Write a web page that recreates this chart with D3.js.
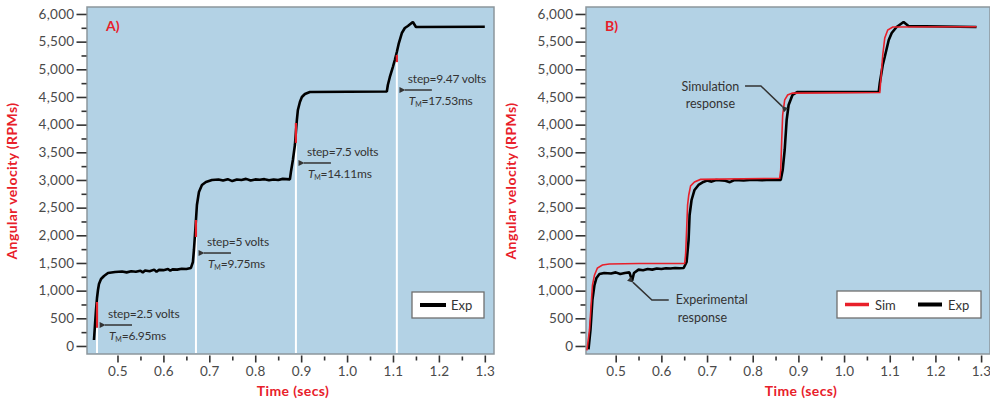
<!DOCTYPE html>
<html><head><meta charset="utf-8">
<script src="https://cdn.jsdelivr.net/npm/d3@7"></script>
<style>
body{margin:0;background:#fff}
svg{display:block}
text{font-family:Lato,"Open Sans",sans-serif}
</style>
</head><body>
<svg id="chart" width="990" height="399"></svg>
<script>
// ---------- data ----------
const xTicks = [0.5,0.6,0.7,0.8,0.9,1.0,1.1,1.2,1.3];
const xMinor = [0.55,0.65,0.75,0.85,0.95,1.05,1.15,1.25];
const yTicks = [0,500,1000,1500,2000,2500,3000,3500,4000,4500,5000,5500,6000];
const yMinor = [250,750,1250,1750,2250,2750,3250,3750,4250,4750,5250,5750];

// Panel A experimental response [time s, rpm]
const expA = [
 [0.4488,108],[0.451,380],[0.4532,650],[0.4554,867],[0.4575,1012],[0.4597,1120],[0.4641,1210],
 [0.4706,1265],[0.4793,1318],[0.4946,1337],[0.51,1345],[0.52,1330],[0.53,1350],[0.54,1340],
 [0.55,1360],[0.555,1330],[0.56,1365],[0.57,1350],[0.58,1380],[0.585,1340],[0.59,1375],
 [0.60,1370],[0.61,1390],[0.615,1360],[0.62,1385],[0.63,1380],[0.64,1395],[0.65,1390],[0.66,1410],
 [0.6643,1518],[0.6665,1735],[0.6687,2006],[0.6709,2277],[0.673,2548],[0.6774,2783],[0.6839,2910],
 [0.6926,2964],[0.7057,3000],[0.72,3010],[0.73,2990],[0.74,3015],[0.75,2980],[0.76,3010],
 [0.77,3000],[0.78,3020],[0.79,2990],[0.80,3010],[0.81,3005],[0.82,3015],[0.83,2995],[0.84,3010],
 [0.85,3000],[0.86,3020],[0.8755,3010],
 [0.8777,3144],[0.882,3361],[0.8864,3632],[0.8886,3867],[0.8907,4084],[0.8929,4265],[0.8973,4409],
 [0.9016,4500],[0.9082,4554],[0.919,4590],[1.0866,4600],
 [1.0888,4716],[1.0932,4861],[1.0997,5041],[1.104,5168],[1.1084,5313],[1.1128,5475],[1.1193,5656],
 [1.1258,5746],[1.1324,5783],[1.1433,5855],[1.15,5765],[1.30,5770]
];
// Panel A step markers
const stepTimesA = [0.4554,0.6709,0.8886,1.1084];
const redSegA = [[330,795],[1970,2277],[3670,4030],[5130,5260]];
const arrowVA = [379,1680,3307,4626];
const stepLabelsA = ["step=2.5 volts","step=5 volts","step=7.5 volts","step=9.47 volts"];
const tmLabelsA = ["=6.95ms","=9.75ms","=14.11ms","=17.53ms"];

// Panel B experimental and simulated responses [time s, rpm]
const expB = [
 [0.4405,-60],[0.4448,290],[0.449,830],[0.4535,1100],[0.4579,1229],[0.4644,1300],[0.475,1320],
 [0.49,1310],[0.50,1330],[0.51,1300],[0.52,1320],[0.53,1330],[0.536,1180],[0.54,1320],
 [0.55,1380],[0.56,1370],[0.57,1390],[0.58,1380],[0.59,1400],[0.60,1390],[0.61,1405],
 [0.62,1400],[0.63,1410],[0.64,1405],[0.6488,1410],
 [0.6553,1518],[0.6596,1915],[0.6618,2367],[0.6661,2638],[0.6726,2819],[0.6813,2910],[0.692,2964],
 [0.70,2990],[0.71,2970],[0.72,3000],[0.74,2985],[0.75,2960],[0.76,3000],[0.78,2990],[0.80,3005],
 [0.82,2995],[0.84,3005],[0.8613,3000],
 [0.8656,3180],[0.87,3542],[0.8743,4084],[0.8786,4355],[0.887,4536],[0.8982,4590],[1.076,4595],
 [1.0782,4753],[1.0847,5078],[1.089,5223],[1.0978,5530],[1.1043,5657],[1.115,5765],[1.1303,5855],
 [1.141,5783],[1.29,5765]
];
const simB = [
 [0.437,-80],[0.4427,290],[0.447,830],[0.4492,1100],[0.4535,1280],[0.460,1410],[0.4709,1464],
 [0.486,1482],[0.551,1490],[0.651,1490],
 [0.653,1645],[0.6553,2096],[0.6574,2548],[0.660,2729],[0.664,2892],[0.6726,2964],[0.6857,3010],
 [0.859,3030],
 [0.8613,3180],[0.8635,3723],[0.8656,4175],[0.870,4446],[0.8765,4536],[0.887,4570],[1.0782,4580],
 [1.0804,4807],[1.0847,5259],[1.0891,5566],[1.0956,5711],[1.1065,5765],[1.29,5770]
];

// ---------- layout ----------
const svg = d3.select("#chart");
const plotTop = 7, plotBottom = 354;
const y = d3.scaleLinear().domain([-145, 6126]).range([plotBottom, plotTop]);
const xA = d3.scaleLinear().domain([0.4336, 1.32]).range([87, 494]);
const xB = d3.scaleLinear().domain([0.435, 1.3195]).range([586, 990]);
const BG = "#b3d2e5", RED = "#e8202a", INK = "#333";

const defs = svg.append("defs");
defs.append("marker").attr("id", "ah").attr("viewBox", "0 0 10 10").attr("refX", 1).attr("refY", 5)
  .attr("markerUnits", "userSpaceOnUse").attr("markerWidth", 7).attr("markerHeight", 6)
  .attr("orient", "auto-start-reverse")
  .append("path").attr("d", "M10,0 L0,5 L10,10 z").attr("fill", INK);

function panel(x, letter, titleX) {
  const g = svg.append("g");
  const [x0, x1] = x.range();
  g.append("rect").attr("x", x0).attr("y", plotTop).attr("width", x1 - x0).attr("height", plotBottom - plotTop)
    .attr("fill", BG).attr("stroke", "#8c969c").attr("stroke-width", 1.5);

  const ya = g.append("g").attr("transform", `translate(${x0-0.5},0)`)
    .call(d3.axisLeft(y).tickValues(yTicks).tickSize(10).tickPadding(2).tickFormat(d3.format(",")));
  ya.select(".domain").remove();
  ya.selectAll("line").attr("stroke", INK).attr("stroke-width", 1.6);
  ya.selectAll("text").attr("fill", "#4a4a4a").style("font-size", "13.5px").style("letter-spacing", "0.3px");
  const ym = g.append("g").attr("transform", `translate(${x0-0.5},0)`)
    .call(d3.axisLeft(y).tickValues(yMinor).tickSize(5).tickFormat(""));
  ym.select(".domain").remove();
  ym.selectAll("line").attr("stroke", INK).attr("stroke-width", 1.6);

  const xa = g.append("g").attr("transform", `translate(0,${plotBottom+1.5})`)
    .call(d3.axisBottom(x).tickValues(xTicks).tickSize(7).tickPadding(4).tickFormat(d3.format(".1f")));
  xa.select(".domain").remove();
  xa.selectAll("line").attr("stroke", INK).attr("stroke-width", 1.6);
  xa.selectAll("text").attr("fill", "#4a4a4a").style("font-size", "13.5px").style("letter-spacing", "0.3px");
  const xm = g.append("g").attr("transform", `translate(0,${plotBottom+2.5})`)
    .call(d3.axisBottom(x).tickValues(xMinor).tickSize(4).tickFormat(""));
  xm.select(".domain").remove();
  xm.selectAll("line").attr("stroke", INK).attr("stroke-width", 1.6);

  svg.append("text").attr("transform", `translate(${x0-70},181) rotate(-90)`)
    .attr("text-anchor", "middle").attr("fill", RED).style("font-weight", "bold")
    .style("font-size", "14px").style("letter-spacing", "0.4px").text("Angular velocity (RPMs)");
  svg.append("text").attr("x", titleX).attr("y", 396).attr("text-anchor", "middle")
    .attr("fill", RED).style("font-weight", "bold").style("font-size", "14px")
    .style("letter-spacing", "0.4px").text("Time (secs)");
  svg.append("text").attr("x", x0 + 19).attr("y", 31).attr("fill", RED)
    .style("font-weight", "bold").style("font-size", "14px").text(letter);
  return g;
}

const line = (x) => d3.line().x(d => x(d[0])).y(d => y(d[1]));

// ---------- Panel A ----------
const gA = panel(xA, "A)", 293);

stepTimesA.forEach((t, i) => {
  gA.append("line").attr("x1", xA(t)).attr("x2", xA(t)).attr("y1", y(redSegA[i][0])).attr("y2", plotBottom - 1)
    .attr("stroke", "#fff").attr("stroke-width", 2);
});
gA.append("path").datum(expA).attr("d", line(xA)).attr("fill", "none")
  .attr("stroke", "#000").attr("stroke-width", 2.6).attr("stroke-linejoin", "bevel");
stepTimesA.forEach((t, i) => {
  gA.append("line").attr("x1", xA(t)).attr("x2", xA(t)).attr("y1", y(redSegA[i][0])).attr("y2", y(redSegA[i][1]))
    .attr("stroke", RED).attr("stroke-width", 2.2);
  const ax = xA(t) + 3, ay = y(arrowVA[i]);
  gA.append("line").attr("x1", ax + 32).attr("x2", ax + 5).attr("y1", ay).attr("y2", ay)
    .attr("stroke", INK).attr("stroke-width", 1.5).attr("marker-end", "url(#ah)");
  gA.append("text").attr("x", ax + 8).attr("y", ay - 7).attr("fill", INK)
    .style("font-size", "12px").style("letter-spacing", "-0.2px").text(stepLabelsA[i]);
  const tt = gA.append("text").attr("x", ax + 9).attr("y", ay + 15).attr("fill", INK)
    .style("font-size", "12px").style("letter-spacing", "-0.2px");
  tt.append("tspan").style("font-style", "italic").text("T");
  tt.append("tspan").attr("dy", 2).style("font-size", "7px").text("M");
  tt.append("tspan").attr("dy", -2).text(tmLabelsA[i]);
});
const lgA = gA.append("g");
lgA.append("rect").attr("x", 412).attr("y", 292).attr("width", 72).attr("height", 26)
  .attr("fill", "#fff").attr("stroke", "#6f6f6f").attr("stroke-width", 1.3);
lgA.append("line").attr("x1", 420).attr("x2", 446).attr("y1", 305).attr("y2", 305)
  .attr("stroke", "#000").attr("stroke-width", 4);
lgA.append("text").attr("x", 451).attr("y", 310).attr("fill", INK).style("font-size", "13px").text("Exp");

// ---------- Panel B ----------
const gB = panel(xB, "B)", 801);
gB.append("path").datum(expB).attr("d", line(xB)).attr("fill", "none")
  .attr("stroke", "#000").attr("stroke-width", 2.6).attr("stroke-linejoin", "bevel");
gB.append("path").datum(simB).attr("d", line(xB)).attr("fill", "none")
  .attr("stroke", RED).attr("stroke-width", 1.6);

const simNote = [[0.7832,4698],[0.818,4698],[0.8645,4330]];
const expNote = [[0.6162,831],[0.5793,831],[0.538,1150]];
[simNote, expNote].forEach(pts => {
  gB.append("path").datum(pts).attr("d", line(xB)).attr("fill", "none")
    .attr("stroke", INK).attr("stroke-width", 1.5).attr("marker-end", "url(#ah)");
});
const sT = gB.append("text").attr("text-anchor", "middle").attr("fill", INK).style("font-size", "12.5px");
sT.append("tspan").attr("x", xB(0.7073)).attr("y", y(4600)).text("Simulation");
sT.append("tspan").attr("x", xB(0.7073)).attr("dy", 17).text("response");
const eT = gB.append("text").attr("fill", INK).style("font-size", "12.5px");
eT.append("tspan").attr("x", xB(0.6314)).attr("y", y(760)).text("Experimental");
eT.append("tspan").attr("x", xB(0.6314) + 2).attr("dy", 18).text("response");

const lgB = gB.append("g");
lgB.append("rect").attr("x", 837).attr("y", 291).attr("width", 144).attr("height", 27)
  .attr("fill", "#fff").attr("stroke", "#6f6f6f").attr("stroke-width", 1.3);
lgB.append("line").attr("x1", 845).attr("x2", 869).attr("y1", 304.5).attr("y2", 304.5)
  .attr("stroke", RED).attr("stroke-width", 3.5);
lgB.append("text").attr("x", 875).attr("y", 309.5).attr("fill", INK).style("font-size", "13px").text("Sim");
lgB.append("line").attr("x1", 918).attr("x2", 942).attr("y1", 304.5).attr("y2", 304.5)
  .attr("stroke", "#000").attr("stroke-width", 4);
lgB.append("text").attr("x", 948).attr("y", 309.5).attr("fill", INK).style("font-size", "13px").text("Exp");
</script>
</body></html>
